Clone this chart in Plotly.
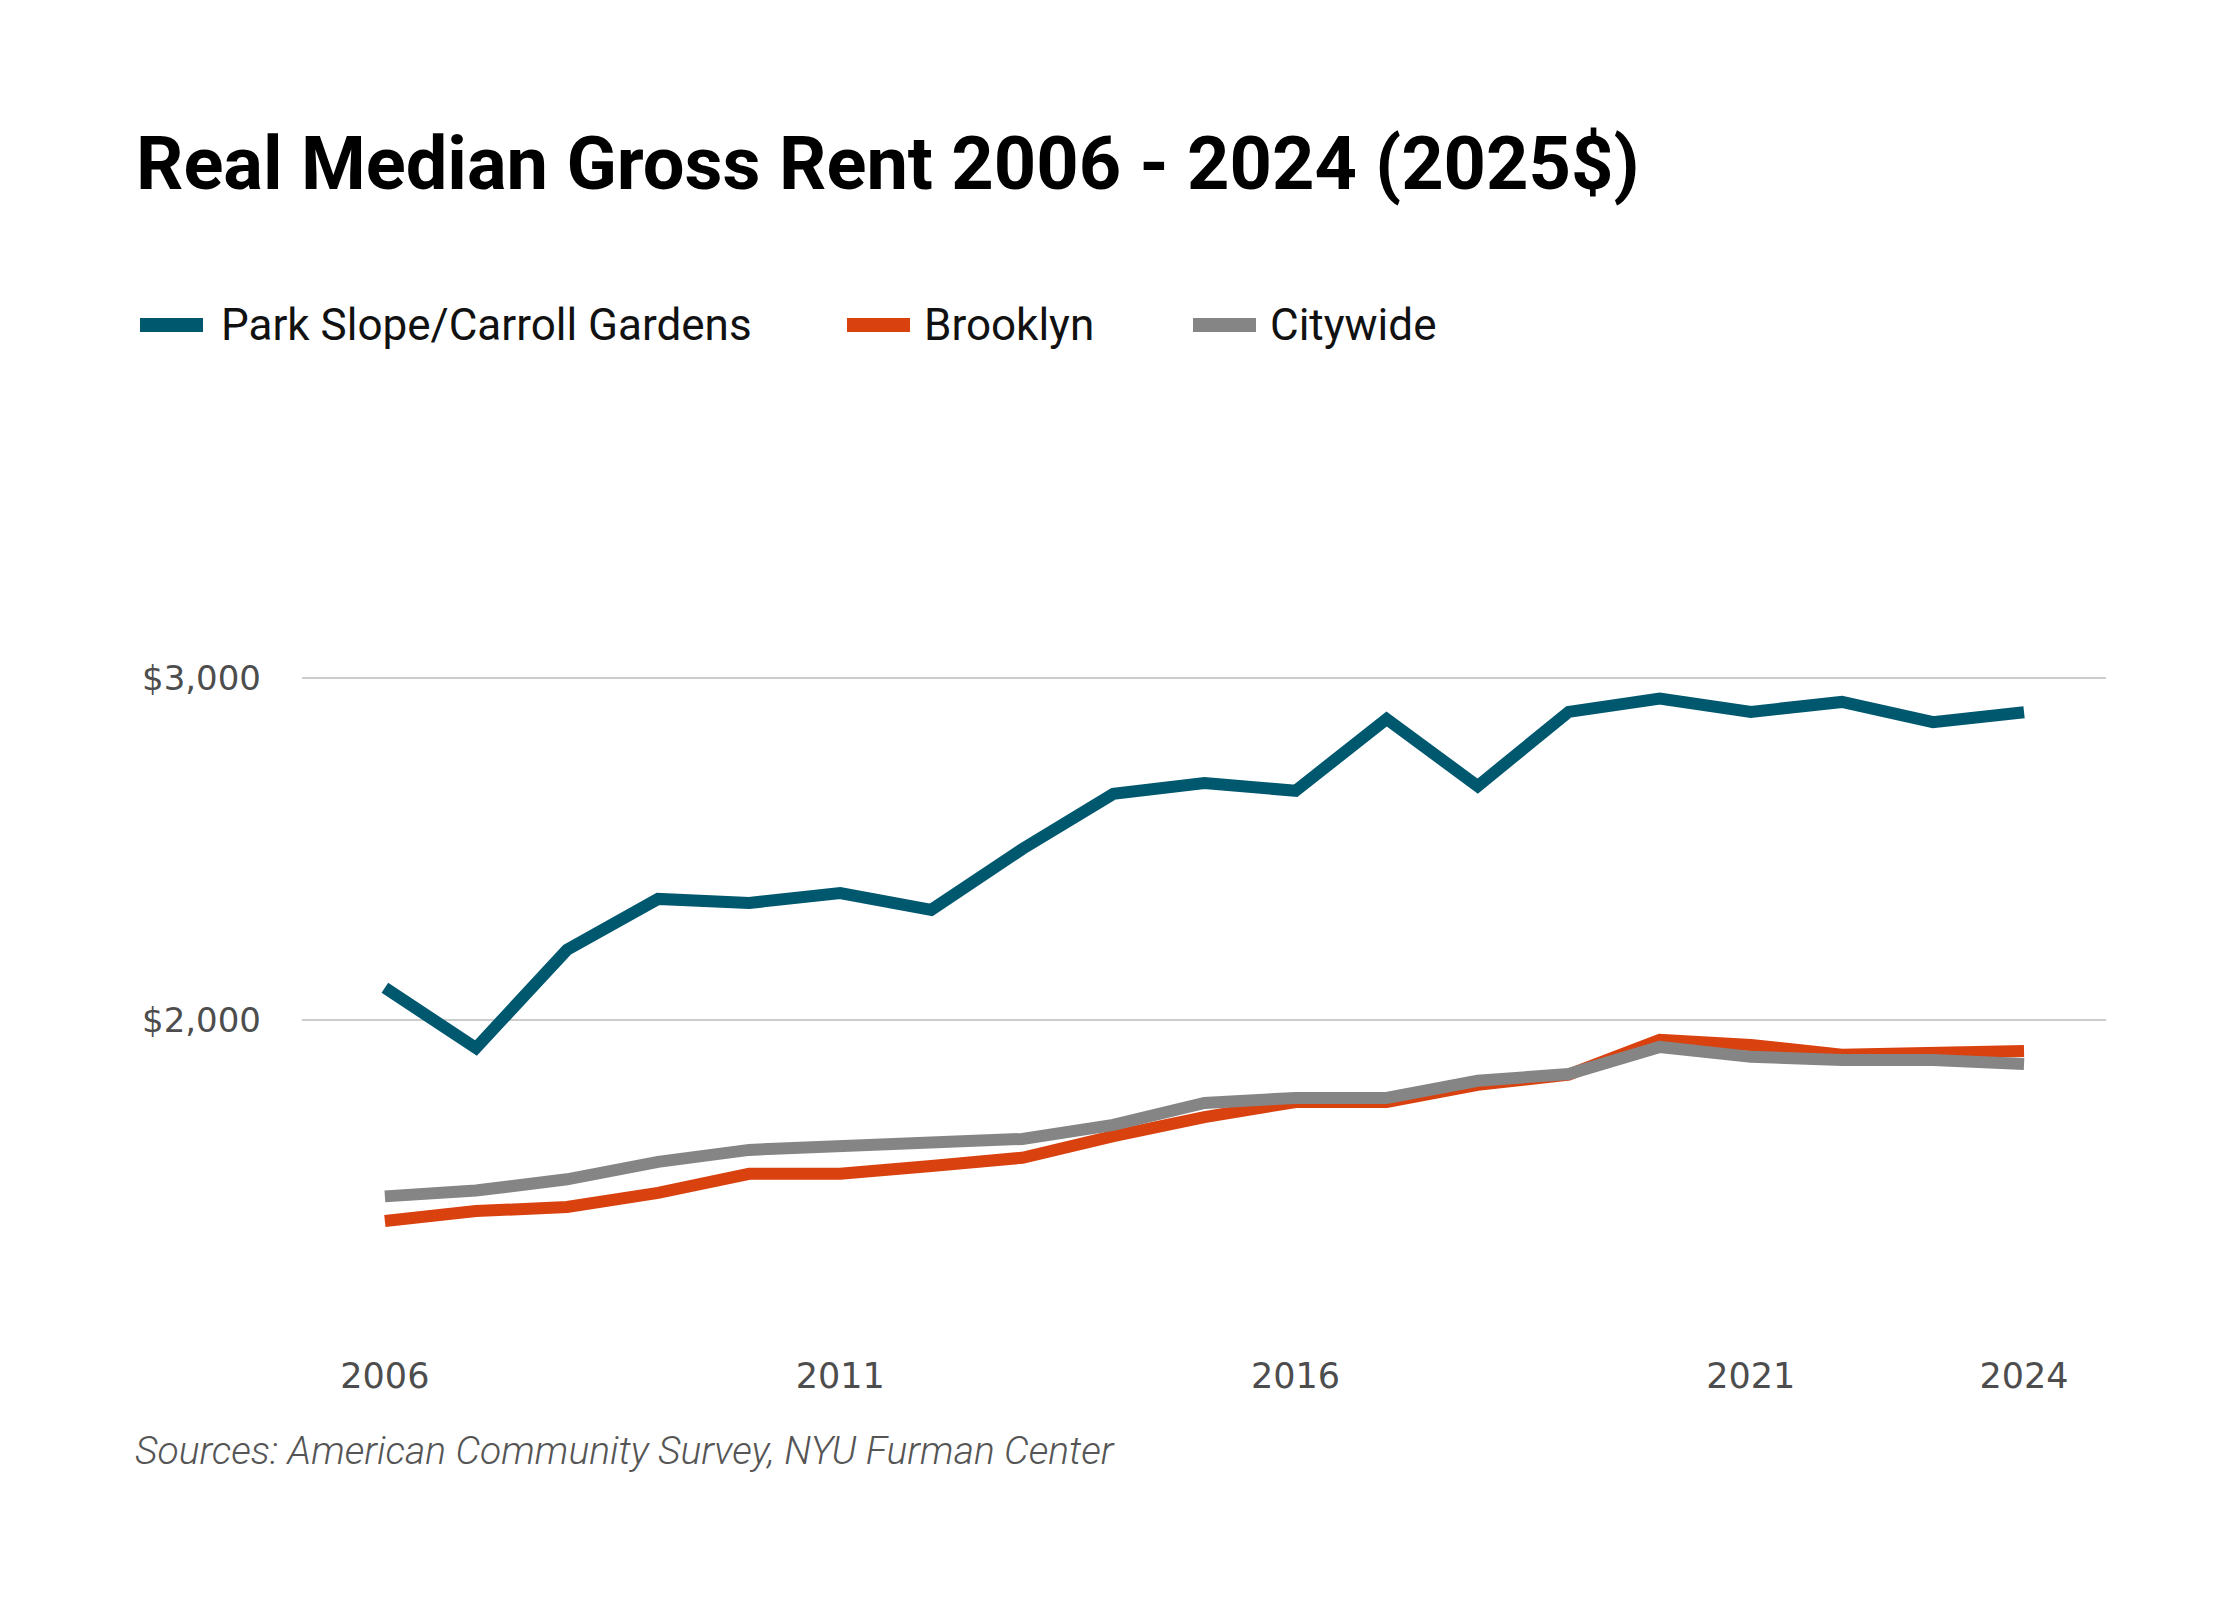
import plotly.graph_objects as go

years = list(range(2006, 2025))

# median gross rent, 2025 dollars
park_slope = [2094, 1918, 2205, 2354, 2342, 2371, 2322, 2500, 2661, 2693, 2670,
              2880, 2684, 2901, 2940, 2901, 2930, 2871, 2900]
brooklyn = [1412, 1441, 1453, 1494, 1550, 1550, 1573, 1597, 1660, 1716, 1760,
            1760, 1810, 1840, 1942, 1927, 1898, 1903, 1909]
citywide = [1484, 1501, 1534, 1585, 1620, 1629, 1640, 1652, 1693, 1757, 1772,
            1772, 1822, 1842, 1921, 1892, 1883, 1883, 1871]

names = ['Park Slope/Carroll Gardens', 'Brooklyn', 'Citywide']
colors = ['#00586f', '#d9410f', '#858585']
x_ticks = [2006, 2011, 2016, 2021, 2024]
y_ticks = [2000, 3000]
y_labels = ['$2,000', '$3,000']

W, H = 2240, 1600
OFF = 8  # the page body adds an 8px margin, pull everything back by that
L, R, T, B = 302 - OFF, 134 + OFF, 440 - OFF, 260 + OFF


def px_to_paper(px, py):
    # px, py are positions in the final screenshot
    px, py = px - OFF, py - OFF
    return (px - L) / (W - L - R), (H - B - py) / (H - T - B)


fig = go.Figure()
for name, vals, col in zip(names, [park_slope, brooklyn, citywide], colors):
    fig.add_trace(go.Scatter(x=years, y=vals, mode='lines', name=name,
                             line=dict(color=col, width=12), showlegend=False))

# hand made legend so the swatches are long and thick like the original
legend_pos = [(140, 219), (847, 922), (1193, 1268)]  # swatch start, text start
for (sx, tx), name, col in zip(legend_pos, names, colors):
    x0, yy = px_to_paper(sx, 325)
    x1, _ = px_to_paper(sx + 63, 325)
    fig.add_shape(type='line', xref='paper', yref='paper', x0=x0, x1=x1, y0=yy, y1=yy,
                  line=dict(color=col, width=14))
    xt, _ = px_to_paper(tx, 325)
    fig.add_annotation(text=name, xref='paper', yref='paper', x=xt, y=yy,
                       xanchor='left', yanchor='middle', showarrow=False,
                       font=dict(family='Roboto', size=44, color='#111111'))

sx, sy = px_to_paper(133, 1451)
fig.add_annotation(text='Sources: American Community Survey, NYU Furman Center',
                   xref='paper', yref='paper', x=sx, y=sy, xanchor='left', yanchor='middle',
                   showarrow=False,
                   font=dict(family='Roboto', size=39, color='#555555', style='italic', weight=300))

fig.update_layout(
    width=W, height=H,
    margin=dict(l=L, r=R, t=T, b=B),
    paper_bgcolor='white', plot_bgcolor='white',
    title=dict(text='Real Median Gross Rent 2006 - 2024 (2025$)',
               x=(136 - OFF) / W, xanchor='left', y=1 - (163 - OFF) / H, yanchor='middle',
               font=dict(family='Roboto', size=74, color='#000000', weight=700)),
    xaxis=dict(range=[2005.09, 2024.9], tickvals=x_ticks, showgrid=False, zeroline=False,
               showline=False, ticks='', ticklabelstandoff=12,
               tickfont=dict(family='DejaVu Sans', size=35, color='#4d4d4d')),
    yaxis=dict(range=[1064, 3696], tickvals=y_ticks, ticktext=y_labels,
               showgrid=True, gridcolor='#cccccc', gridwidth=2, zeroline=False,
               showline=False, ticks='', ticklabelstandoff=40,
               tickfont=dict(family='DejaVu Sans', size=34, color='#4d4d4d')),
)

fig.write_html('out.html')
